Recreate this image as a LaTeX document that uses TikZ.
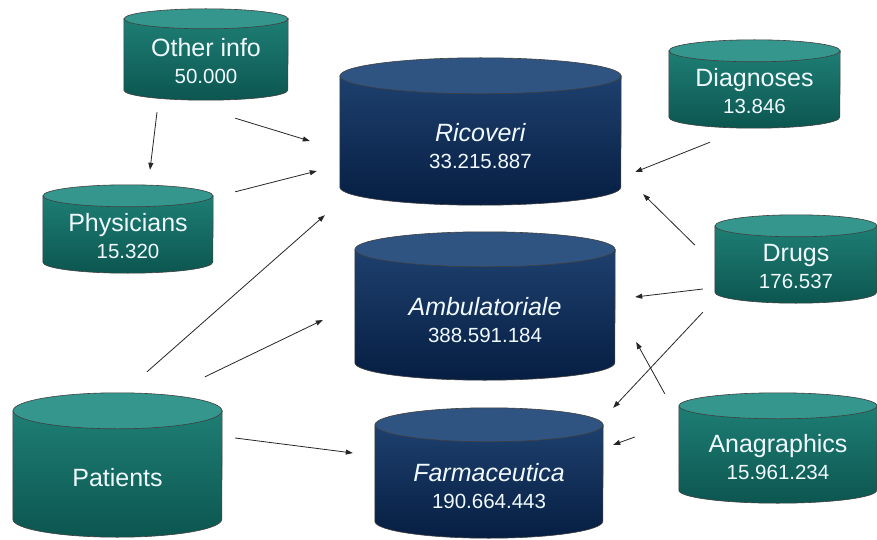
\documentclass[tikz,border=0pt]{standalone}
\usepackage{fontspec}
\setmainfont{Liberation Sans}
\usepackage{tikz}
\usetikzlibrary{arrows.meta, backgrounds}
\definecolor{navytop}{RGB}{48,84,130}
\definecolor{navyhi}{RGB}{30,64,110}
\definecolor{navylo}{RGB}{6,30,66}
\definecolor{tealtop}{RGB}{52,150,140}
\definecolor{tealhi}{RGB}{30,126,116}
\definecolor{teallo}{RGB}{12,86,80}
\newcommand{\dbnum}[1]{{\fontsize{20.5}{27}\selectfont #1}}

\begin{document}
\begin{tikzpicture}[
  x=1pt, y=-1pt,
  db/.style={inner sep=0pt, align=center, text=white!94!cyan, text depth=8pt,
             font=\fontsize{25}{27}\selectfont},
  cylbody/.style={draw=black!75, line width=0.6pt},
  arr/.style={-{Triangle[length=7pt, width=5pt]}, line width=0.8pt, black!85}
]
\useasboundingbox (0,0) rectangle (877,540);

% Central tables
\node[db, minimum width=281pt, minimum height=111pt] (ric) at (480.5,149.5) {\textit{Ricoveri}\\\dbnum{33.215.887}};
\node[db, minimum width=260pt, minimum height=113pt] (amb) at (485,323.5) {\textit{Ambulatoriale}\\\dbnum{388.591.184}};
\node[db, minimum width=228pt, minimum height=96pt] (far) at (489,490) {\textit{Farmaceutica}\\\dbnum{190.664.443}};

% Source tables
\node[db, minimum width=164pt, minimum height=71pt] (oth) at (206,64.5) {Other info\\\dbnum{50.000}};
\node[db, minimum width=170pt, minimum height=66pt] (phy) at (128,240) {Physicians\\\dbnum{15.320}};
\node[db, minimum width=209pt, minimum height=108pt, text depth=12pt] (pat) at (117.5,483) {Patients};
\node[db, minimum width=171pt, minimum height=66pt] (dia) at (754.5,95) {Diagnoses\\\dbnum{13.846}};
\node[db, minimum width=162pt, minimum height=66pt] (dru) at (796,270) {Drugs\\\dbnum{176.537}};
\node[db, minimum width=198pt, minimum height=84pt] (ana) at (778,461) {Anagraphics\\\dbnum{15.961.234}};

% Cylinders behind the text
\begin{scope}[on background layer]
\foreach \n/\hw/\r/\cl in {ric/140.5/18/navy, amb/130/17.5/navy, far/114/17/navy,
    oth/82/10/teal, phy/85/11/teal, pat/104.5/18/teal,
    dia/85.5/11/teal, dru/81/11/teal, ana/99/13/teal}{
  \path[cylbody, top color=\cl hi, bottom color=\cl lo]
    ([yshift=\r pt]\n.north west) -- ([yshift=\r pt]\n.south west)
    arc[start angle=180, end angle=360, x radius=\hw pt, y radius=\r pt]
    -- ([yshift=\r pt]\n.north east) -- cycle;
  \path[cylbody, fill=\cl top] ([yshift=\r pt]\n.north) ellipse [x radius=\hw pt, y radius=\r pt];
}
\end{scope}

% Arrows from the left
\draw[arr] ([shift={(-49,12)}]oth.south) -- ([shift={(22,-37)}]phy.north);
\draw[arr] ([shift={(-53,18)}]oth.south east) -- ([shift={(-30,-8.5)}]ric.west);
\draw[arr] ([shift={(22,-15)}]phy.north east) -- ([shift={(-23,21.5)}]ric.west);
\draw[arr] ([shift={(29.5,-57)}]pat.north) -- ([shift={(-15,10)}]ric.south west);
\draw[arr] ([shift={(87.5,-52)}]pat.north) -- ([shift={(-32,-3.5)}]amb.west);
\draw[arr] ([shift={(13,-45)}]pat.east) -- ([shift={(-22,-37)}]far.west);

% Arrows from the right
\draw[arr] ([shift={(-44.5,14)}]dia.south) -- ([shift={(14,22.5)}]ric.east);
\draw[arr] ([shift={(-20,-25)}]dru.west) -- ([shift={(22,-11)}]ric.south east);
\draw[arr] ([shift={(-12,19)}]dru.west) -- ([shift={(20,-26.5)}]amb.east);
\draw[arr] ([shift={(-12,9)}]dru.south west) -- ([shift={(10,-34)}]far.north east);
\draw[arr] ([shift={(-14,-25)}]ana.north west) -- ([shift={(21,18.5)}]amb.east);
\draw[arr] ([shift={(-44,-24)}]ana.west) -- ([shift={(10,3)}]far.north east);

\end{tikzpicture}
\end{document}
